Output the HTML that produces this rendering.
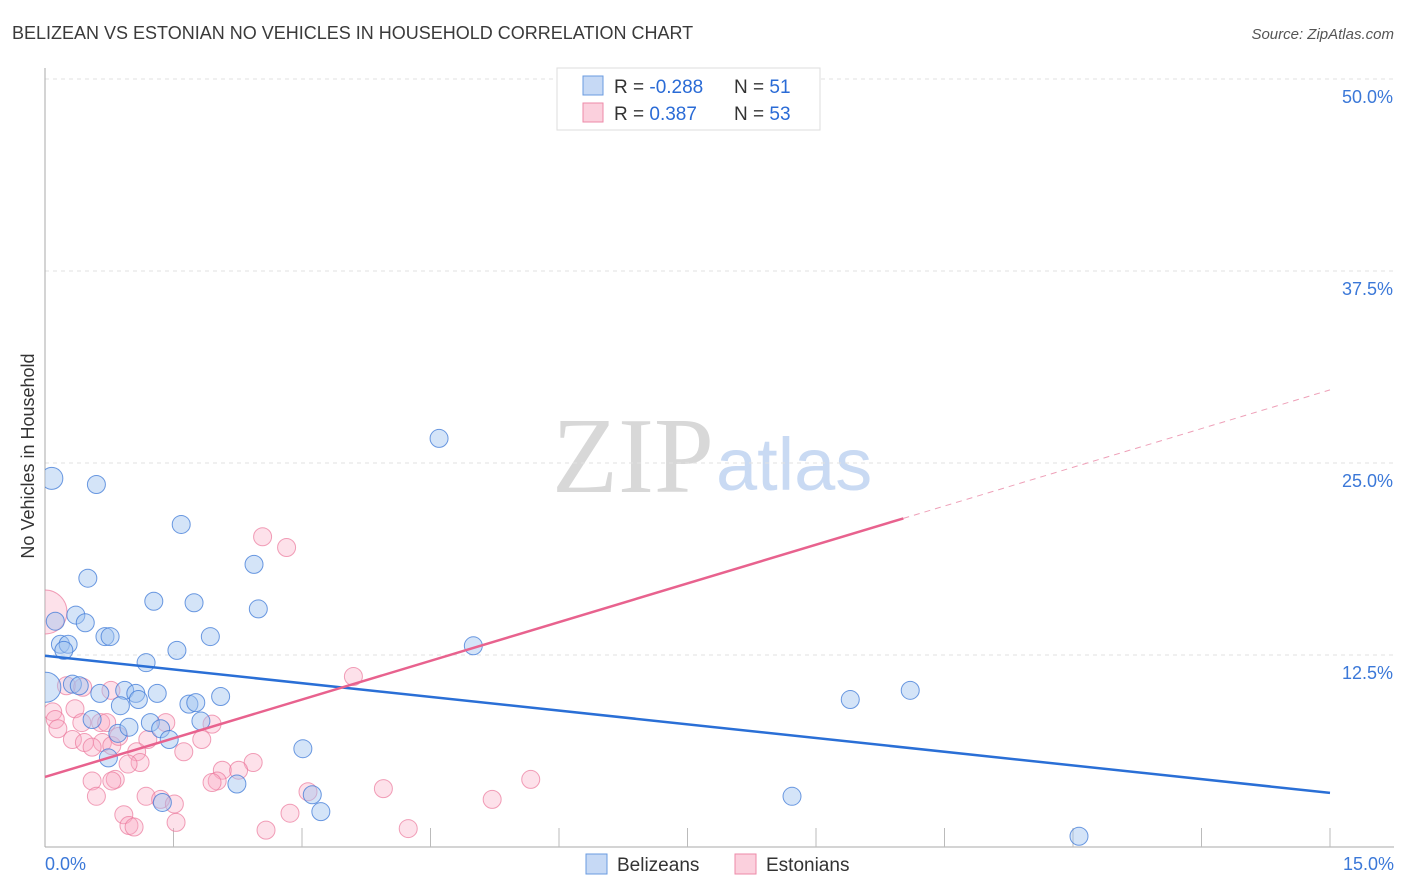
<!DOCTYPE html>
<html><head><meta charset="utf-8"><style>
body{margin:0;background:#fff;font-family:"Liberation Sans",sans-serif}
svg{display:block}
</style></head><body>
<svg id="c" width="1406" height="892">
<defs><clipPath id="plot"><rect x="45" y="60" width="1360" height="787"/></clipPath></defs>
<text x="12" y="39" font-size="18" fill="#3a3a3a">BELIZEAN VS ESTONIAN NO VEHICLES IN HOUSEHOLD CORRELATION CHART</text>
<text x="1394" y="39" font-size="15" font-style="italic" fill="#555" text-anchor="end">Source: ZipAtlas.com</text>
<text x="714" y="492" font-size="108" font-family="Liberation Serif" fill="#d8d8d8" text-anchor="end">ZIP</text>
<text x="716" y="490" font-size="74" fill="#c9daf3">atlas</text>
<text transform="translate(34,456) rotate(-90)" font-size="18" fill="#333" text-anchor="middle">No Vehicles in Household</text>
<g id="grid"></g><g id="pts" clip-path="url(#plot)"></g><g id="lines"></g>
<g>
<rect x="557" y="68" width="263" height="62" fill="#fff" stroke="#ddd"/>
<rect x="583" y="76" width="20" height="19" fill="#c6d9f5" stroke="#6a9be0"/>
<rect x="583" y="103" width="20" height="19" fill="#fbd0dd" stroke="#ee8aa8"/>
<text x="614" y="93" font-size="19" fill="#333">R = <tspan fill="#2a6bd6">-0.288</tspan></text>
<text x="734" y="93" font-size="19" fill="#333">N = <tspan fill="#2a6bd6"> 51</tspan></text>
<text x="614" y="120" font-size="19" fill="#333">R = <tspan fill="#2a6bd6"> 0.387</tspan></text>
<text x="734" y="120" font-size="19" fill="#333">N = <tspan fill="#2a6bd6">53</tspan></text>
</g>
<g>
<rect x="586" y="854" width="21" height="20" fill="#c6d9f5" stroke="#6a9be0"/>
<text x="617" y="871" font-size="19" fill="#333">Belizeans</text>
<rect x="735" y="854" width="21" height="20" fill="#fbd0dd" stroke="#ee8aa8"/>
<text x="766" y="871" font-size="19" fill="#333">Estonians</text>
</g>
</svg>
<script>
const yTicks=[50,37.5,25,12.5];
const yTickLabels=["50.0%","37.5%","25.0%","12.5%"];
const xTickLabels=["0.0%","15.0%"];
const belizeanX=[0.08,0.6,1.59,4.6,2.44,0.5,1.27,1.74,2.49,0.36,0.47,0.12,0.7,0.76,1.93,0.18,0.27,0.22,5.0,1.54,1.18,0.01,0.32,0.4,0.93,0.64,1.31,1.06,1.09,2.05,0.88,1.68,1.76,9.4,10.1,0.55,1.23,1.82,0.85,0.98,1.35,1.45,0.74,3.01,2.24,3.12,1.37,3.22,8.72,12.07];
const belizeanY=[24.0,23.6,21.0,26.6,18.4,17.5,16.0,15.9,15.5,15.1,14.6,14.7,13.7,13.7,13.7,13.2,13.2,12.8,13.1,12.8,12.0,10.4,10.6,10.5,10.2,10.0,10.0,10.0,9.6,9.8,9.2,9.3,9.4,9.6,10.2,8.3,8.1,8.2,7.4,7.8,7.7,7.0,5.8,6.4,4.1,3.4,2.9,2.3,3.3,0.7];
const belizeanR=[11,9,9,9,9,9,9,9,9,9,9,9,9,9,9,9,9,9,9,9,9,15,9,9,9,9,9,9,9,9,9,9,9,9,9,9,9,9,9,9,9,9,9,9,9,9,9,9,9,9];
const estonianX=[0,2.54,2.82,3.6,0.25,0.44,0.77,0.09,0.35,0.12,0.43,0.15,0.65,0.72,1.41,1.95,0.32,0.46,0.67,0.55,0.78,0.86,1.2,1.83,1.07,1.11,1.62,0.97,2.43,2.07,2.26,0.82,0.55,0.78,2.01,1.95,5.67,0.6,1.18,1.35,1.51,3.07,3.95,5.22,0.92,1.53,0.98,1.04,2.86,2.58,4.24];
const estonianY=[15.3,20.2,19.5,11.1,10.5,10.4,10.2,8.8,9.0,8.3,8.1,7.7,8.1,8.1,8.1,8.0,7.0,6.8,6.8,6.5,6.6,7.2,7.0,7.0,6.2,5.5,6.2,5.4,5.5,5.0,5.0,4.4,4.3,4.3,4.3,4.2,4.4,3.3,3.3,3.1,2.8,3.6,3.8,3.1,2.1,1.6,1.4,1.3,2.2,1.1,1.2];
const estonianR=[22,9,9,9,9,9,9,9,9,9,9,9,9,9,9,9,9,9,9,9,9,9,9,9,9,9,9,9,9,9,9,9,9,9,9,9,9,9,9,9,9,9,9,9,9,9,9,9,9,9,9];
const belizeanFit=[12.45,-0.595];
const estonianFit=[4.56,1.68];
const NS="http://www.w3.org/2000/svg";
const X=v=>45+v/15*1285, Y=v=>847-v/12.5*192;
function mk(t,a,p){const e=document.createElementNS(NS,t);for(const k in a)e.setAttribute(k,a[k]);p.appendChild(e);return e;}
const grid=document.getElementById('grid');
yTicks.forEach((t,i)=>{
 const l=mk('line',{x1:45,x2:1394,y1:Y(t),y2:Y(t),stroke:'#e2e2e2','stroke-dasharray':'4,4'},grid);
 
 
 const tx=mk('text',{x:1393,y:Y(t)+24,'font-size':18,fill:'#3b78d8','text-anchor':'end'},grid);tx.textContent=yTickLabels[i];
 
 
});
mk('line',{x1:45,x2:45,y1:68,y2:847,stroke:'#aaa'},grid);
mk('line',{x1:45,x2:1394,y1:847,y2:847,stroke:'#aaa'},grid);
for(let i=1;i<=10;i++){const l=mk('line',{x1:X(i*1.5),x2:X(i*1.5),y1:828,y2:847,stroke:'#bbb'},grid);
 
 }
[[0,'start',45],[15,'end',1394]].forEach((d,i)=>{const t=mk('text',{x:d[2],y:870,'font-size':18,fill:'#3b78d8','text-anchor':d[1]},grid);t.textContent=xTickLabels[i];
 
 });
const pts=document.getElementById('pts');
estonianX.forEach((x,i)=>{const c=mk('circle',{cx:X(x),cy:Y(estonianY[i]),r:estonianR[i],fill:'rgba(248,170,195,0.35)',stroke:'rgba(235,120,155,0.7)','stroke-width':1},pts);
 
 });
belizeanX.forEach((x,i)=>{const c=mk('circle',{cx:X(x),cy:Y(belizeanY[i]),r:belizeanR[i],fill:'rgba(160,195,240,0.45)',stroke:'rgba(60,120,215,0.75)','stroke-width':1},pts);
 
 });
const lg=document.getElementById('lines');
let l=mk('line',{x1:X(0),y1:Y(belizeanFit[0]),x2:X(15),y2:Y(belizeanFit[0]+15*belizeanFit[1]),stroke:'#2a6fd6','stroke-width':2.5},lg);


l=mk('line',{x1:X(0),y1:Y(estonianFit[0]),x2:X(10.02),y2:Y(estonianFit[0]+10.02*estonianFit[1]),stroke:'#e8628e','stroke-width':2.5},lg);


l=mk('line',{x1:X(10.02),y1:Y(estonianFit[0]+10.02*estonianFit[1]),x2:X(15),y2:Y(estonianFit[0]+15*estonianFit[1]),stroke:'#eea0b8','stroke-width':1,'stroke-dasharray':'6,5'},lg);


</script>
</body></html>
